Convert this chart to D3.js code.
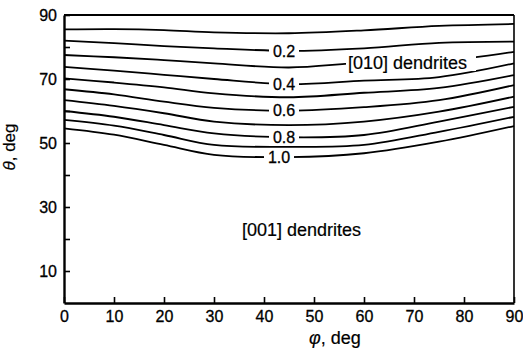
<!DOCTYPE html>
<html>
<head>
<meta charset="utf-8">
<script src="https://cdn.jsdelivr.net/npm/d3@7"></script>
<style>
  body { margin: 0; background: #fff; }
  svg { display: block; font-family: Arial, "Liberation Sans", sans-serif; }
</style>
</head>
<body>
<svg id="chart" width="523" height="351"></svg>
<script>
// azimuth phi (deg) at which each contour was read
const phiValues = [0, 10, 20, 30, 45, 60, 75, 90];
// theta (deg) of each contour line, one array per level
const contour01 = [85.5, 85.6, 85.3, 84.6, 84.3, 85.2, 86.6, 87.2];
const contour02 = [82.0, 81.2, 80.3, 79.6, 78.8, 79.6, 81.3, 81.7];
const contour03 = [77.5, 76.8, 75.9, 74.9, 73.6, 75.1, 75.6, 78.5];
const contour04 = [73.8, 72.6, 71.3, 70.0, 68.4, 69.5, 70.6, 74.9];
const contour05 = [70.2, 68.9, 67.4, 65.5, 64.3, 65.7, 67.2, 71.2];
const contour06 = [66.8, 65.2, 62.9, 61.0, 60.1, 61.2, 63.4, 68.1];
const contour07 = [63.4, 61.6, 59.3, 56.7, 55.6, 56.7, 59.8, 64.5];
const contour08 = [60.0, 58.2, 55.6, 53.0, 51.8, 52.5, 56.7, 61.3];
const contour09 = [57.2, 55.4, 52.5, 49.4, 48.8, 49.4, 53.5, 58.2];
const contour10 = [54.6, 52.6, 49.4, 46.3, 45.6, 46.8, 50.4, 55.3];
const levelNames = ["0.1", "0.2", "0.3", "0.4", "0.5", "0.6", "0.7", "0.8", "0.9", "1.0"];
const labelledLevels = ["0.2", "0.4", "0.6", "0.8", "1.0"];
const xTicks = [0, 10, 20, 30, 40, 50, 60, 70, 80, 90];
const yTicks = [10, 20, 30, 40, 50, 60, 70, 80, 90];
const yTickLabels = [10, 30, 50, 70, 90];

const contours = [contour01, contour02, contour03, contour04, contour05,
  contour06, contour07, contour08, contour09, contour10];

const svg = d3.select("#chart");
const x = d3.scaleLinear().domain([0, 90]).range([64, 514]);
const y = d3.scaleLinear().domain([0, 90]).range([303, 15]);

// frame: top and right edges
svg.append("line")
  .attr("x1", x(0)).attr("x2", x(90)).attr("y1", y(90)).attr("y2", y(90))
  .attr("stroke", "#000").attr("stroke-width", 2);
svg.append("line")
  .attr("x1", x(90)).attr("x2", x(90)).attr("y1", y(90)).attr("y2", y(0))
  .attr("stroke", "#000").attr("stroke-width", 1.6);

// contour lines
const line = d3.line()
  .x((d, i) => x(phiValues[i]))
  .y(d => y(d))
  .curve(d3.curveCatmullRom);

svg.append("g")
  .selectAll("path")
  .data(contours)
  .join("path")
  .attr("fill", "none")
  .attr("stroke", "#000")
  .attr("stroke-width", 1.8)
  .attr("d", d => line(d));

// axes
const xAxis = svg.append("g")
  .attr("transform", `translate(0,${y(0)})`)
  .call(d3.axisBottom(x).tickValues(xTicks).tickSize(-6).tickSizeOuter(0).tickPadding(8));
const yAxis = svg.append("g")
  .attr("transform", `translate(${x(0)},0)`)
  .call(d3.axisLeft(y).tickValues(yTicks).tickSize(-6).tickSizeOuter(0).tickPadding(7)
    .tickFormat(d => yTickLabels.includes(d) ? d : ""));

[xAxis, yAxis].forEach(g => {
  g.select(".domain").attr("stroke-width", 2.4);
  g.selectAll(".tick line").attr("stroke-width", 1.6);
  g.selectAll(".tick text")
    .attr("fill", "#000")
    .attr("stroke", "#000").attr("stroke-width", 0.3)
    .style("font-family", "Arial, 'Liberation Sans', sans-serif")
    .style("font-size", "16px");
});

// contour labels, sitting on the lines near phi = 44
const labelIdx = phiValues.indexOf(45);
const labels = svg.append("g");
labelledLevels.forEach(name => {
  const k = levelNames.indexOf(name);
  const lx = x(name === "1.0" ? 43 : 44);
  const ly = y(contours[k][labelIdx]);
  labels.append("rect")
    .attr("x", lx - 15).attr("y", ly - 7)
    .attr("width", 30).attr("height", 14)
    .attr("fill", "#fff");
  labels.append("text")
    .attr("x", lx).attr("y", ly)
    .attr("dy", "0.36em")
    .attr("text-anchor", "middle")
    .attr("stroke", "#000").attr("stroke-width", 0.3)
    .style("font-size", "16px")
    .text(name);
});

// region labels
const region010 = svg.append("g");
region010.append("rect")
  .attr("x", x(56.4)).attr("y", y(75.3) - 9)
  .attr("width", 130).attr("height", 18)
  .attr("fill", "#fff");
region010.append("text")
  .attr("x", x(56.8)).attr("y", y(75.3))
  .attr("dy", "0.36em")
  .attr("stroke", "#000").attr("stroke-width", 0.2)
  .style("font-size", "18px")
  .text("[010] dendrites");

svg.append("text")
  .attr("x", x(35.6)).attr("y", y(23))
  .attr("dy", "0.36em")
  .attr("stroke", "#000").attr("stroke-width", 0.2)
  .style("font-size", "18px")
  .text("[001] dendrites");

// axis titles
svg.append("text")
  .attr("x", 335).attr("y", 344)
  .attr("text-anchor", "middle")
  .attr("stroke", "#000").attr("stroke-width", 0.2)
  .style("font-size", "18px")
  .html('<tspan font-style="italic">φ</tspan>, deg');

svg.append("text")
  .attr("transform", "translate(15,147) rotate(-90)")
  .attr("text-anchor", "middle")
  .attr("stroke", "#000").attr("stroke-width", 0.2)
  .style("font-size", "17px")
  .html('<tspan font-style="italic">θ</tspan>, deg');
</script>
</body>
</html>
